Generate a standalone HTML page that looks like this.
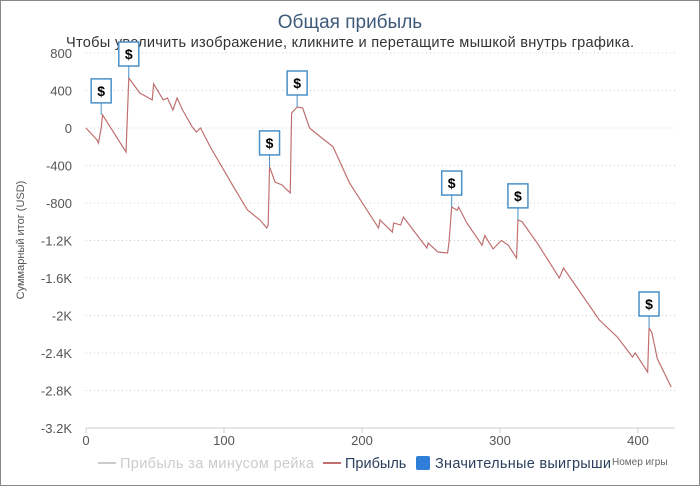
<!DOCTYPE html>
<html><head><meta charset="utf-8"><style>
body{margin:0;background:#fff}
svg{display:block;font-family:"Liberation Sans","DejaVu Sans",sans-serif}
</style></head><body>
<svg id="c" width="700" height="486">
<rect x="0.5" y="0.5" width="699" height="485" fill="#fff" stroke="#888"/>
<text x="350" y="28" text-anchor="middle" font-size="19" fill="#3d5a7a">Общая прибыль</text>
<text x="66" y="47" font-size="14.6" fill="#333" textLength="568">Чтобы увеличить изображение, кликните и перетащите мышкой внутрь графика.</text>
<text transform="translate(24,240) rotate(-90)" text-anchor="middle" font-size="11" fill="#555">Суммарный итог (USD)</text>
<g id="grid"></g><g id="xax"></g><g id="series"></g><g id="flags"></g>
<g>
<line x1="98" y1="463" x2="116" y2="463" stroke="#ccc" stroke-width="2"/>
<text x="120" y="468" font-size="14.5" fill="#ccc" textLength="194">Прибыль за минусом рейка</text>
</g>
<g>
<line x1="323" y1="463" x2="341" y2="463" stroke="#c07070" stroke-width="2"/>
<text x="345" y="468" font-size="14.5" fill="#2a3f5f">Прибыль</text>
</g>
<g>
<rect x="416" y="456" width="14" height="14" rx="2" fill="#2f7ed8"/>
<text x="435" y="468" font-size="14.5" fill="#2a3f5f" textLength="176">Значительные выигрыши</text>
</g>
<text x="612" y="465" font-size="10" fill="#666">Номер игры</text>
</svg>
<script>
const games=[0,8,9,11,12,29,31,39,48,49,56,59,63,66,70,77,80,83,90,107,117,126,131,132,133,137,142,148,149,153,157,162,170,179,191,212,213,222,223,228,230,236,247,248,255,262,263,265,269,270,276,287,289,295,301,306,312,313,316,327,343,346,351,372,385,396,398,407,408,410,414,424];
const profit=[0,-128,-160,0,140,-256,533,373,300,470,300,320,192,320,192,10,-43,0,-200,-630,-875,-980,-1067,-1035,-415,-576,-608,-693,160,224,213,0,-96,-200,-587,-1067,-980,-1110,-1013,-1035,-950,-1067,-1280,-1227,-1323,-1333,-1227,-843,-877,-843,-1013,-1250,-1147,-1290,-1200,-1250,-1387,-980,-1000,-1227,-1600,-1493,-1600,-2048,-2230,-2443,-2400,-2603,-2133,-2180,-2460,-2763];
const winGames=[11,31,133,153,265,313,408];
const winValues=[140,533,-415,224,-843,-980,-2133];
const yTicks=[800,400,0,-400,-800,-1200,-1600,-2000,-2400,-2800,-3200];
const yTickLabels=["800","400","0","-400","-800","-1.2K","-1.6K","-2K","-2.4K","-2.8K","-3.2K"];
const xTicks=[0,100,200,300,400];
const NS="http://www.w3.org/2000/svg";
const X=g=>86+g*1.38, Y=v=>128-v*0.09375;
function mk(p,t,a){const e=document.createElementNS(NS,t);for(const k in a)e.setAttribute(k,a[k]);p.appendChild(e);return e;}
const grid=document.getElementById('grid');
yTicks.forEach((v,i)=>{
 if(v!==-3200){const l=mk(grid,'line',{x1:86,x2:675,y1:Y(v),y2:Y(v),stroke:'#ccc','stroke-dasharray':'1,3'});
 
 }
 const t=mk(grid,'text',{x:72,y:Y(v)+5,'text-anchor':'end','font-size':13,fill:'#555'});t.textContent=yTickLabels[i];
 
 
});
const xax=document.getElementById('xax');
const al=mk(xax,'line',{x1:86,x2:675,y1:428,y2:428,stroke:'#ccc','stroke-width':1});


xTicks.forEach(g=>{
 mk(xax,'line',{x1:X(g),x2:X(g),y1:428,y2:433,stroke:'#ccc'});
 const t=mk(xax,'text',{x:X(g),y:445,'text-anchor':'middle','font-size':13,fill:'#555'});t.textContent=g;
 
 
});
const s=document.getElementById('series');
const pl=mk(s,'polyline',{points:games.map((g,i)=>X(g)+','+Y(profit[i])).join(' '),fill:'none',stroke:'#c07070','stroke-width':1.2});


const f=document.getElementById('flags');
winGames.forEach((g,i)=>{
 const x=X(g),y=Y(winValues[i]);const by=Math.max(y-36,40);
 mk(f,'line',{x1:x,x2:x,y1:by+24,y2:y,stroke:'#4a90c8'});
 const r=mk(f,'rect',{x:x-10,y:by,width:20,height:24,fill:'#fff',stroke:'#4a90c8','stroke-width':1.5});
 
 
 const t=mk(f,'text',{x:x,y:by+17,'text-anchor':'middle','font-size':14,'font-weight':'bold',fill:'#000'});t.textContent='$';
});
</script>
</body></html>
